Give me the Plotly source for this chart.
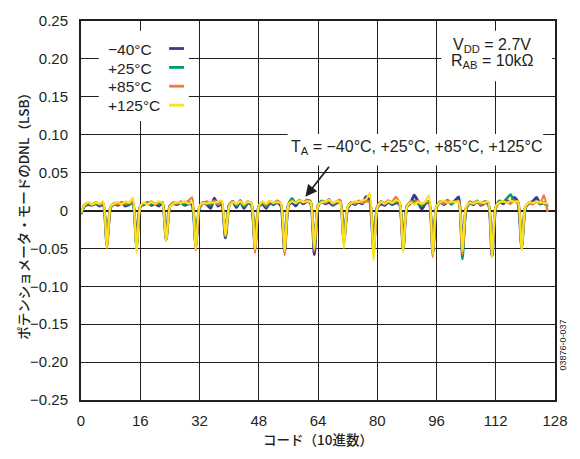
import plotly.graph_objects as go

codes = list(range(0, 127))

dnl_m40 = [
    -0.004, 0.006, 0.008, 0.007, 0.009, 0.006, 0.008, -0.044,
    0.004, 0.009, 0.007, 0.010, 0.006, 0.008, 0.011, -0.046,
    0.005, 0.008, 0.010, 0.007, 0.009, 0.006, 0.010, -0.038,
    0.006, 0.009, 0.008, 0.011, 0.007, 0.009, 0.008, -0.045,
    0.004, 0.010, 0.008, 0.003, 0.016, 0.006, 0.009, -0.036,
    0.006, 0.012, 0.004, 0.013, 0.003, 0.010, 0.008, -0.048,
    0.005, 0.009, 0.003, 0.010, 0.008, 0.011, 0.006, -0.054,
    0.007, 0.011, 0.006, 0.013, 0.009, 0.012, 0.010, -0.058,
    0.006, 0.012, 0.009, 0.011, 0.007, 0.010, 0.012, -0.040,
    0.003, 0.010, 0.008, 0.011, 0.009, 0.018, 0.012, -0.050,
    0.004, 0.009, 0.007, 0.011, 0.008, 0.010, 0.009, -0.050,
    0.005, 0.010, 0.020, 0.012, 0.002, 0.009, 0.011, -0.055,
    0.005, 0.011, 0.008, 0.012, 0.009, 0.013, 0.018, -0.055,
    0.003, 0.010, 0.008, 0.012, 0.007, 0.010, 0.009, -0.060,
    0.004, 0.012, 0.009, 0.013, 0.010, 0.017, 0.011, -0.047,
    0.004, 0.010, 0.012, 0.017, 0.009, 0.010, 0.006,
]

dnl_p25 = [
    -0.005, 0.007, 0.009, 0.008, 0.010, 0.007, 0.009, -0.047,
    0.005, 0.008, 0.009, 0.011, 0.007, 0.009, 0.010, -0.048,
    0.006, 0.009, 0.011, 0.008, 0.010, 0.008, 0.011, -0.039,
    0.005, 0.010, 0.009, 0.010, 0.008, 0.011, 0.009, -0.048,
    0.005, 0.011, 0.009, 0.007, 0.012, 0.008, 0.010, -0.035,
    0.007, 0.011, 0.006, 0.012, 0.005, 0.011, 0.009, -0.050,
    0.006, 0.010, 0.005, 0.011, 0.009, 0.012, 0.008, -0.052,
    0.008, 0.016, 0.009, 0.013, 0.010, 0.014, 0.012, -0.052,
    0.007, 0.013, 0.011, 0.015, 0.008, 0.011, 0.013, -0.042,
    0.004, 0.011, 0.009, 0.012, 0.010, 0.013, 0.012, -0.054,
    0.005, 0.012, 0.008, 0.013, 0.009, 0.011, 0.010, -0.052,
    0.006, 0.011, 0.013, 0.009, 0.006, 0.010, 0.012, -0.057,
    0.004, 0.012, 0.010, 0.014, 0.008, 0.012, 0.011, -0.064,
    0.002, 0.011, 0.009, 0.013, 0.008, 0.012, 0.010, -0.056,
    0.004, 0.013, 0.011, 0.016, 0.021, 0.012, 0.010, -0.050,
    0.003, 0.011, 0.009, 0.013, 0.008, 0.011, 0.005,
]

dnl_p85 = [
    -0.004, 0.008, 0.010, 0.007, 0.011, 0.008, 0.009, -0.050,
    0.004, 0.010, 0.008, 0.011, 0.009, 0.010, 0.012, -0.050,
    0.005, 0.010, 0.009, 0.012, 0.008, 0.011, 0.009, -0.040,
    0.006, 0.011, 0.009, 0.012, 0.010, 0.013, 0.017, -0.053,
    0.005, 0.010, 0.012, 0.009, 0.013, 0.008, 0.011, -0.034,
    0.006, 0.012, 0.008, 0.013, 0.007, 0.012, 0.010, -0.056,
    0.005, 0.011, 0.007, 0.012, 0.010, 0.013, 0.009, -0.059,
    0.007, 0.013, 0.010, 0.014, 0.011, 0.013, 0.012, -0.054,
    0.006, 0.012, 0.010, 0.013, 0.009, 0.012, 0.014, -0.044,
    0.004, 0.011, 0.009, 0.013, 0.010, 0.012, 0.011, -0.058,
    0.005, 0.012, 0.010, 0.013, 0.011, 0.018, 0.010, -0.050,
    0.005, 0.012, 0.010, 0.013, 0.008, 0.011, 0.012, -0.061,
    0.004, 0.011, 0.009, 0.013, 0.010, 0.012, 0.011, -0.058,
    0.003, 0.012, 0.010, 0.011, 0.008, 0.012, 0.010, -0.058,
    0.004, 0.010, 0.012, 0.011, 0.009, 0.013, 0.011, -0.050,
    0.005, 0.010, 0.008, 0.012, 0.009, 0.020, -0.002,
]

dnl_p125 = [
    -0.003, 0.007, 0.011, 0.008, 0.010, 0.009, 0.012, -0.049,
    0.006, 0.009, 0.011, 0.008, 0.012, 0.010, 0.017, -0.056,
    0.006, 0.010, 0.008, 0.011, 0.009, 0.012, 0.010, -0.041,
    0.005, 0.009, 0.011, 0.010, 0.012, 0.009, 0.011, -0.051,
    0.006, 0.010, 0.009, 0.011, 0.010, 0.012, 0.013, -0.033,
    0.005, 0.011, 0.009, 0.012, 0.008, 0.011, 0.010, -0.051,
    0.006, 0.012, 0.009, 0.013, 0.010, 0.011, 0.009, -0.054,
    0.008, 0.012, 0.010, 0.013, 0.011, 0.012, 0.011, -0.050,
    0.007, 0.011, 0.012, 0.014, 0.010, 0.012, 0.011, -0.050,
    0.005, 0.010, 0.012, 0.011, 0.013, 0.015, 0.023, -0.066,
    0.004, 0.011, 0.009, 0.012, 0.010, 0.013, 0.012, -0.055,
    0.005, 0.010, 0.008, 0.011, 0.009, 0.012, 0.020, -0.058,
    0.006, 0.011, 0.013, 0.010, 0.012, 0.011, 0.012, -0.054,
    0.005, 0.010, 0.009, 0.012, 0.011, 0.010, 0.012, -0.062,
    0.006, 0.011, 0.012, 0.010, 0.013, 0.011, 0.012, -0.053,
    0.005, 0.011, 0.010, 0.012, 0.011, 0.010, 0.009,
]

series_names = ["\u221240\u00b0C", "+25\u00b0C", "+85\u00b0C", "+125\u00b0C"]
series_data = [dnl_m40, dnl_p25, dnl_p85, dnl_p125]
series_colors = ["#3b3897", "#00a05a", "#f07c3a", "#fbe21d"]
series_widths = [3.0, 2.5, 2.3, 2.2]

x_ticks = [0, 16, 32, 48, 64, 80, 96, 112, 128]
y_ticks = [0.25, 0.20, 0.15, 0.10, 0.05, 0, -0.05, -0.10, -0.15, -0.20, -0.25]
y_tick_text = ["0.25", "0.20", "0.15", "0.10", "0.05", "0",
               "\u22120.05", "\u22120.10", "\u22120.15", "\u22120.20", "\u22120.25"]

FONT = "Liberation Sans, Arial, Noto Sans CJK JP, sans-serif"
JFONT = "Noto Sans CJK JP, Liberation Sans, sans-serif"

fig = go.Figure()
for name, ys, col, w in zip(series_names, series_data, series_colors, series_widths):
    fig.add_trace(go.Scatter(
        x=codes, y=ys, mode="lines", name=name,
        line=dict(color=col, width=w, shape="spline", smoothing=0.6),
        showlegend=False,
    ))

fig.update_layout(
    width=580, height=459,
    margin=dict(l=81, r=20, t=17, b=59),
    paper_bgcolor="white", plot_bgcolor="white",
    font=dict(family=FONT, size=14, color="#231f20"),
)
fig.update_xaxes(
    range=[0, 128], tickvals=x_ticks, ticktext=[str(v) for v in x_ticks],
    showgrid=True, gridcolor="#231f20", gridwidth=1.2,
    showline=True, linecolor="#231f20", linewidth=2, mirror=True,
    ticks="", ticklabelstandoff=6, zeroline=False,
    tickfont=dict(size=15),
)
fig.update_yaxes(
    range=[-0.25, 0.25], tickvals=y_ticks, ticktext=y_tick_text,
    showgrid=True, gridcolor="#231f20", gridwidth=1.2,
    showline=True, linecolor="#231f20", linewidth=2, mirror=True,
    ticks="", ticklabelstandoff=8,
    zeroline=True, zerolinecolor="#231f20", zerolinewidth=2.2,
    tickfont=dict(size=15),
)

# white boxes behind legend and notes
boxes = [
    (0.0376, 0.2275, 0.736, 0.974),
    (0.760, 0.994, 0.841, 0.974),
    (0.436, 0.975, 0.619, 0.702),
]
for x0, x1, y0, y1 in boxes:
    fig.add_shape(type="rect", xref="paper", yref="paper",
                  x0=x0, x1=x1, y0=y0, y1=y1,
                  fillcolor="white", line=dict(width=0), layer="above")

# custom legend: text left, line sample right
leg_y = [0.2127, 0.1878, 0.163, 0.138]
for name, col, yy in zip(series_names, series_colors, leg_y):
    fig.add_annotation(x=6.7, y=yy, xref="x", yref="y", text=name,
                       showarrow=False, xanchor="left", yanchor="middle",
                       font=dict(size=15.5, family=FONT))
    fig.add_shape(type="line", xref="x", yref="y",
                  x0=23.8, x1=27.8, y0=yy + 0.001, y1=yy + 0.001,
                  line=dict(color=col, width=2.8), layer="above")

fig.add_annotation(x=111, y=0.218, xref="x", yref="y",
                   text="V<sub>DD</sub> = 2.7V", showarrow=False,
                   xanchor="center", yanchor="middle", font=dict(size=16))
fig.add_annotation(x=111, y=0.196, xref="x", yref="y",
                   text="R<sub>AB</sub> = 10k\u03a9", showarrow=False,
                   xanchor="center", yanchor="middle", font=dict(size=16))
fig.add_annotation(x=90.5, y=0.0833, xref="x", yref="y",
                   text="T<sub>A</sub> = \u221240\u00b0C, +25\u00b0C, +85\u00b0C, +125\u00b0C",
                   showarrow=False, xanchor="center", yanchor="middle",
                   font=dict(size=16))
fig.add_annotation(x=60.6, y=0.018, ax=67.3, ay=0.0597,
                   xref="x", yref="y", axref="x", ayref="y",
                   text="", showarrow=True, arrowhead=2, arrowsize=1.3,
                   arrowwidth=1.8, arrowcolor="#231f20")

fig.add_annotation(x=-0.123, y=0.493, xref="paper", yref="paper",
                   text="\u30dd\u30c6\u30f3\u30b7\u30e7\u30e1\u30fc\u30bf\u30fb\u30e2\u30fc\u30c9\u306eDNL\uff08LSB\uff09",
                   textangle=-90, showarrow=False, xanchor="center", yanchor="middle",
                   font=dict(size=13.5, family=JFONT, weight=500))
fig.add_annotation(x=0.499, y=-0.102, xref="paper", yref="paper",
                   text="\u30b3\u30fc\u30c9\uff0810\u9032\u6570\uff09",
                   showarrow=False, xanchor="center", yanchor="middle",
                   font=dict(size=13.5, family=JFONT, weight=500))
fig.add_annotation(x=1.017, y=0.144, xref="paper", yref="paper",
                   text="03876-0-037", textangle=-90, showarrow=False,
                   xanchor="center", yanchor="middle", font=dict(size=9))

fig.write_html("out.html")
